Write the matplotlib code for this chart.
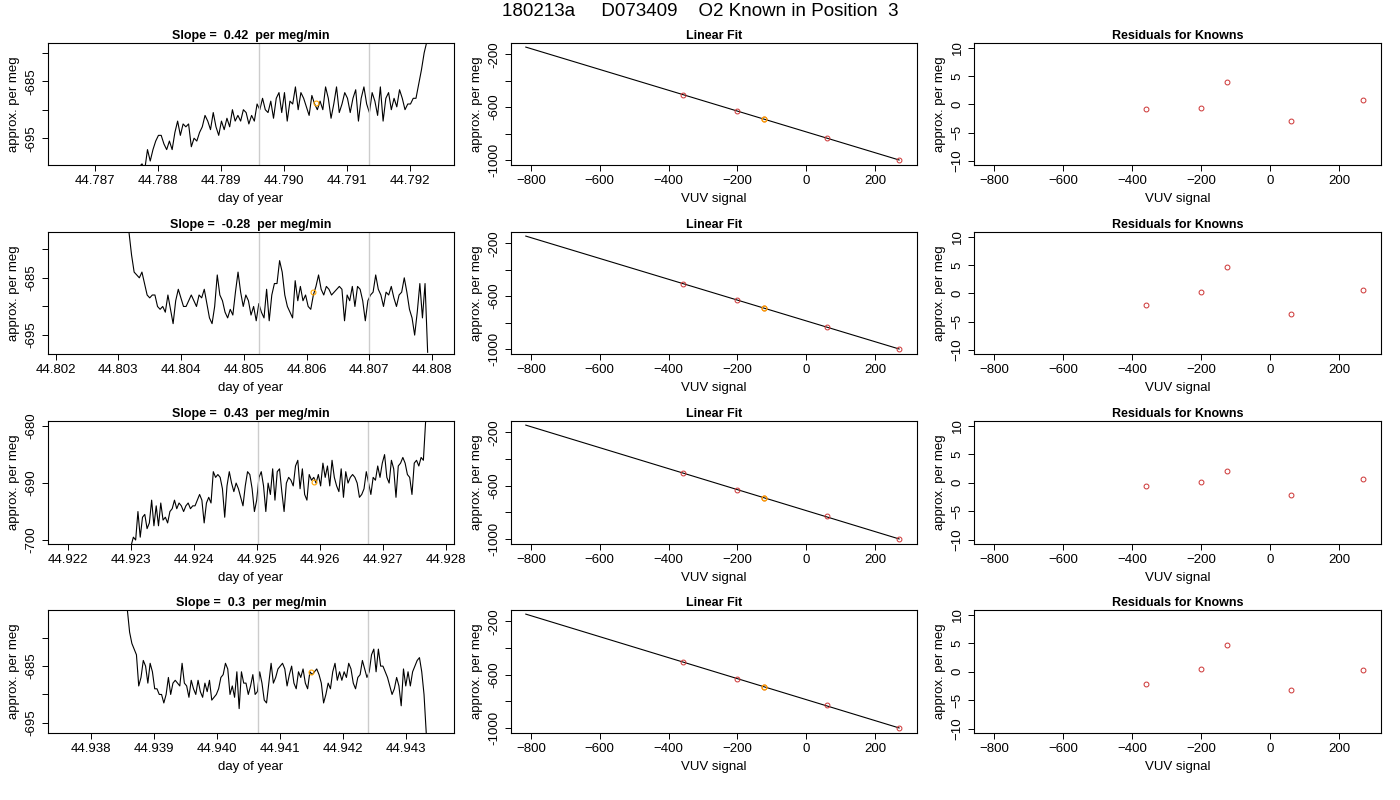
import numpy as np
import matplotlib.pyplot as plt

plt.rcParams['font.family'] = ['Liberation Sans', 'DejaVu Sans']

title = "180213a     D073409    O2 Known in Position  3"

# time-series panels: start/end of trace, y values, axis limits, markers
slopes = ["0.42", "-0.28", "0.43", "0.3"]
t_start = [44.7877, 44.80317, 44.923, 44.93858]
t_end = [44.79227, 44.80793, 44.92768, 44.94333]
xlims = [(44.78625, 44.79270), (44.80188, 44.80835), (44.92168, 44.92813), (44.93732, 44.94377)]
ylims = [(-699.7, -678.3), (-698.3, -677.0), (-700.7, -679.1), (-696.8, -675.1)]
yticks = [[-680, -685, -690, -695], [-680, -685, -690, -695], [-680, -690, -700], [-680, -685, -690, -695]]
ylabels_shown = [[-685, -695], [-685, -695], [-680, -690, -700], [-685, -695]]
xticks = [[44.787, 44.788, 44.789, 44.790, 44.791, 44.792],
          [44.802, 44.803, 44.804, 44.805, 44.806, 44.807, 44.808],
          [44.922, 44.923, 44.924, 44.925, 44.926, 44.927, 44.928],
          [44.938, 44.939, 44.940, 44.941, 44.942, 44.943]]
gray_lines = [(44.7896, 44.79135), (44.80525, 44.80699), (44.92502, 44.92676), (44.94066, 44.9424)]
orange_pt = [(44.7905, -688.9), (44.8061, -687.5), (44.9259, -689.8), (44.9415, -686.0)]

trace1 = [-700, -699.5, -700.5, -697, -699, -697, -695.5, -694.5, -694.5, -696, -697, -695.5, -697, -694, -692,
          -694.5, -692.5, -693, -692.5, -696.5, -695, -695.5, -694, -693, -691, -692, -693.5, -690.5, -693, -694.5,
          -692, -693.5, -691.5, -693, -690, -692, -691, -692, -690, -690.5, -692.5, -691, -692, -689, -690, -688,
          -690, -690.5, -688.5, -691.5, -688, -687, -690.5, -687, -692, -688.5, -689, -686, -690, -687, -688,
          -689.5, -691, -687.5, -689, -690, -688.5, -690, -686, -688, -691.5, -689, -686, -690.5, -689, -687, -688,
          -690.5, -688, -686.5, -692, -688, -686, -689, -690.5, -687, -688.5, -691, -686, -692, -688, -687, -690,
          -688, -689.5, -686.5, -688, -690, -689, -689, -688, -688, -685.5, -683, -680, -678]
trace2 = [-677, -681, -684, -684.5, -685, -684, -686, -688, -688.5, -688, -688, -690, -690.5, -690, -691, -688,
          -690.5, -693, -689, -687, -688.5, -690, -690, -689, -688, -689, -690, -688, -688.5, -687, -689.5, -692,
          -693, -690, -684.5, -688, -689, -691, -692, -690.5, -691.5, -687.5, -684, -687.5, -690, -688, -689,
          -691.5, -690, -692.5, -689.5, -691, -692, -687, -692.5, -688, -686, -686, -682, -684, -688, -690, -691,
          -692, -685.5, -689, -686.5, -689, -688, -690, -690.5, -688, -686.5, -684.5, -687, -688, -686.5, -687,
          -688, -687.5, -687, -686.5, -687, -692.5, -688, -689, -686.5, -690, -686.5, -687, -689, -692.5, -689,
          -688, -687.5, -684.5, -687, -688, -690, -687.5, -688, -686.5, -688.5, -690, -688, -687.5, -685, -687.5,
          -690.5, -692, -695, -691, -686, -692, -686, -698]
trace3 = [-701, -699.5, -700, -695, -699.5, -696, -695.5, -698, -697, -693, -697.5, -694, -697.5, -693.5, -696.5,
          -696, -697, -695, -694.5, -693, -694.5, -693.5, -694, -695, -694, -693.5, -694.5, -694, -694, -693, -692,
          -693, -697, -693.5, -692.5, -693.5, -688, -689, -688.5, -689, -691, -696, -690.5, -688, -690, -691.5,
          -690, -691, -692.5, -694, -690.5, -688, -688.5, -691, -695, -693, -689, -688, -690.5, -695, -690, -692,
          -687.5, -693, -688, -687.5, -691.5, -695, -690, -689, -689.5, -690.5, -687, -686, -691, -687.5, -692,
          -693, -688.5, -689.5, -689, -690, -688.5, -690.5, -686.5, -689, -687, -690.5, -686, -689, -690.5,
          -691.5, -687.5, -692.5, -688, -690, -689, -688.5, -689, -690, -692.5, -692, -691, -688, -690, -692,
          -689, -689.5, -687, -689, -686.5, -685, -689, -690, -686, -687.5, -692.5, -687, -686.5, -685.5, -686.5,
          -688.5, -689, -692, -686.5, -686, -687, -685.5, -686, -679]
trace4 = [-675, -679, -681, -682, -683, -688.5, -687, -684, -685, -688, -684.5, -686, -689, -689, -690, -690,
          -691.5, -690, -687, -690, -688, -687.5, -688, -688.5, -684.5, -688, -688.5, -690.5, -687.5, -689, -690,
          -687.5, -689.5, -690.5, -688, -689.5, -687.5, -691, -690.5, -690, -689, -687, -686.5, -684.5, -685.5,
          -690, -688.5, -690.5, -686, -692.5, -686, -688, -688, -690, -688.5, -686.5, -690, -689.5, -686, -688,
          -691, -691.5, -688, -684.5, -688, -687, -685.5, -685, -684.5, -685.5, -688.5, -686.5, -685, -688, -689,
          -686, -687, -685.5, -688, -689, -686, -686.5, -686, -685.5, -686.5, -688, -691.5, -690, -688, -689, -686,
          -684.5, -687.5, -686, -687.5, -686, -687, -684.5, -685.5, -688, -689, -687, -686.5, -684, -685.5, -687,
          -686, -683, -682, -686, -682, -685, -685, -686, -687, -688.5, -690, -689, -687, -688.5, -692, -685.5,
          -688.5, -686, -688.5, -686, -685, -684, -683.5, -686, -690, -697]
traces = [trace1, trace2, trace3, trace4]

# linear fit panels
vuv = [-358, -200, -124, 60, 270]
permeg = [-505, -630, -690, -830, -1000]
fit_x = [-815, 270]
fit_y = [-145, -1000]
known_idx = 2  # the orange one
residuals = [[-0.8, -0.7, 3.9, -2.9, 0.7],
             [-2.0, 0.2, 4.6, -3.7, 0.5],
             [-0.6, 0.1, 2.0, -2.2, 0.7],
             [-2.1, 0.4, 4.6, -3.2, 0.3]]

W, H = 1400, 800
fig = plt.figure(figsize=(14, 8), dpi=100)
fig.text(0.5, 1 - 12 / H, title, ha='center', va='center', fontsize=13.5)

cols = [(48, 454), (511, 917), (974, 1381)]
rows = [(43, 165), (232, 354), (421, 544), (610, 733)]


def style(ax):
    for s in ax.spines.values():
        s.set_linewidth(0.8)
    ax.tick_params(labelsize=9.5, length=4, width=0.7)
    for lab in ax.get_yticklabels():
        lab.set_rotation(90)
        lab.set_va('center')


def add(c, r):
    x0, x1 = cols[c]
    y0, y1 = rows[r]
    return fig.add_axes([x0 / W, 1 - y1 / H, (x1 - x0) / W, (y1 - y0) / H])


for r in range(4):
    # time series
    ax = add(0, r)
    t = np.linspace(t_start[r], t_end[r], len(traces[r]))
    ax.plot(t, traces[r], color='black', lw=0.8)
    for g in gray_lines[r]:
        ax.axvline(g, color='#cccccc', lw=1)
    ax.plot(*orange_pt[r], 'o', mfc='none', mec='orange', ms=3.5, mew=0.8)
    ax.set_xlim(*xlims[r])
    ax.set_ylim(*ylims[r])
    ax.set_xticks(xticks[r])
    ax.set_xticklabels([f"{v:.3f}" for v in xticks[r]])
    ax.set_yticks(yticks[r])
    ax.set_yticklabels([str(v) if v in ylabels_shown[r] else '' for v in yticks[r]])
    ax.set_title(f"Slope =  {slopes[r]}  per meg/min", fontsize=9, fontweight='bold', pad=3)
    ax.set_xlabel("day of year", fontsize=9.5)
    ax.set_ylabel("approx. per meg", fontsize=9.5)
    style(ax)

    # linear fit
    ax = add(1, r)
    ax.plot(fit_x, fit_y, color='black', lw=0.8)
    ax.plot(vuv, permeg, 'o', mfc='none', mec='#cc3333', ms=3.5, mew=0.7)
    ax.plot(vuv[known_idx], permeg[known_idx], 'o', mfc='none', mec='orange', ms=3.5, mew=0.9)
    ax.set_xlim(-858, 322)
    ax.set_ylim(-1038, -114)
    ax.set_xticks([-800, -600, -400, -200, 0, 200])
    ax.set_yticks([-200, -400, -600, -800, -1000])
    ax.set_yticklabels(['-200', '', '-600', '', '-1000'])
    ax.set_title("Linear Fit", fontsize=9, fontweight='bold', pad=3)
    ax.set_xlabel("VUV signal", fontsize=9.5)
    ax.set_ylabel("approx. per meg", fontsize=9.5)
    style(ax)

    # residuals
    ax = add(2, r)
    ax.plot(vuv, residuals[r], 'o', mfc='none', mec='#cc3333', ms=3.5, mew=0.7)
    ax.set_xlim(-858, 322)
    ax.set_ylim(-10.7, 10.8)
    ax.set_xticks([-800, -600, -400, -200, 0, 200])
    ax.set_yticks([-10, -5, 0, 5, 10])
    ax.set_title("Residuals for Knowns", fontsize=9, fontweight='bold', pad=3)
    ax.set_xlabel("VUV signal", fontsize=9.5)
    ax.set_ylabel("approx. per meg", fontsize=9.5)
    style(ax)

fig.savefig("out.png", dpi=100)
